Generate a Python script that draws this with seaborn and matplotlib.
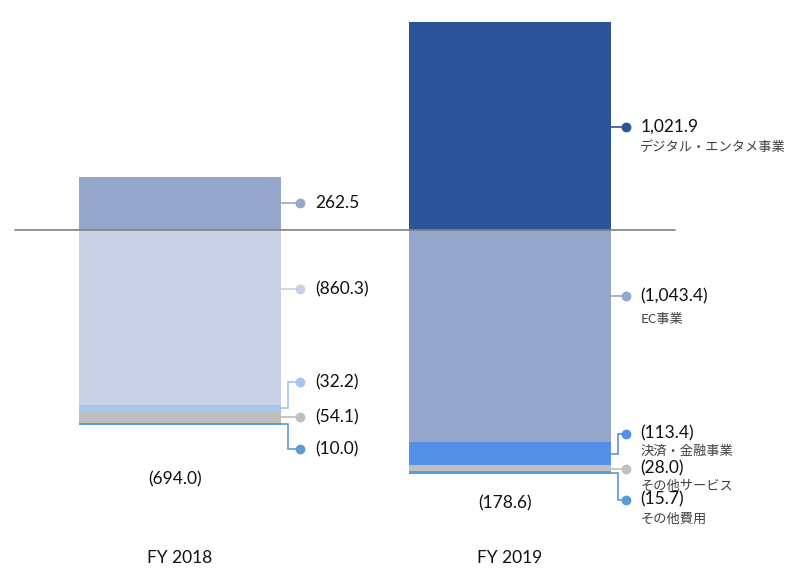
import matplotlib
matplotlib.use("Agg")
import pandas as pd
import seaborn as sns
import matplotlib.pyplot as plt

# data
years = ["FY 2018", "FY 2019"]
segments = ["デジタル・エンタメ事業", "EC事業", "決済・金融事業", "その他サービス", "その他費用"]
fy2018 = [262.5, -860.3, -32.2, -54.1, -10.0]
fy2019 = [1021.9, -1043.4, -113.4, -28.0, -15.7]
totals = [-694.0, -178.6]

colors_2018 = ["#94a7ca", "#c8d1e5", "#a6c5f0", "#bfbfbf", "#5b9bd5"]
colors_2019 = ["#2b5499", "#94a7ca", "#5590e8", "#bfbfbf", "#5b9bd5"]

# layout: where each callout sits (data units on the value axis)
label_y_2018 = [132, -290, -747, -919, -1076]
label_y_2019 = [508, -324, -1000, -1172, -1325]
name_offset = [-15, -17, -12.5, -13, -14]   # points below the value text
total_y = [-1224, -1341]
show_names = [False, True]

sns.set_style("white")
plt.rcParams["font.family"] = ["Lato", "Noto Sans CJK JP", "DejaVu Sans"]

fig = plt.figure(figsize=(8, 5.77), dpi=100)
ax = fig.add_axes([0, 0, 1, 1])

bar_w = 0.615
values = [fy2018, fy2019]
colors = [colors_2018, colors_2019]
label_ys = [label_y_2018, label_y_2019]

for i, year in enumerate(years):
    pos, neg = 0.0, 0.0
    for j, v in enumerate(values[i]):
        if v >= 0:
            bottom = pos
            pos += v
        else:
            bottom = neg
            neg += v
        df = pd.DataFrame({"year": [year], "value": [v]})
        sns.barplot(data=df, x="year", y="value", order=years, color=colors[i][j],
                    bottom=bottom, width=bar_w, errorbar=None, saturation=1,
                    linewidth=0, ax=ax)

        # callout line, dot and label
        seg_lo, seg_hi = sorted([bottom, bottom + v])
        ly = label_ys[i][j]
        anchor = ly if seg_lo <= ly <= seg_hi else (seg_lo + seg_hi) / 2
        edge = i + bar_w / 2
        elbow = edge + 0.02
        dot_x = i + (0.365 if i == 0 else 0.35)
        ax.plot([edge, elbow, elbow, dot_x], [anchor, anchor, ly, ly],
                color=colors[i][j], lw=1.2, solid_joinstyle="miter", zorder=3)
        ax.scatter([dot_x], [ly], s=50, color=colors[i][j], zorder=4, linewidth=0)
        txt = f"{v:,.1f}" if v >= 0 else f"({abs(v):,.1f})"
        ax.text(dot_x + 0.045, ly, txt, fontsize=12.5, color="#111111",
                va="center", ha="left")
        if show_names[i]:
            ax.annotate(segments[j], (dot_x + 0.045, ly), xytext=(0, name_offset[j]),
                        textcoords="offset points", fontsize=9.5,
                        color="#404040", va="center", ha="left",
                        family=["Noto Sans CJK JP", "DejaVu Sans"])

    ax.text(i - 0.015, total_y[i], f"({abs(totals[i]):,.1f})", fontsize=12.5,
            color="#111111", ha="center", va="center")
    ax.text(i, -1612, year, fontsize=12.5, color="#111111", ha="center", va="center")

ax.plot([-0.5, 1.5], [0, 0], color="#808080", lw=1.2, zorder=3)

ax.set_xlim(-180 / 330, -180 / 330 + 800 / 330)
ax.set_ylim(-347 / 0.2035, 230 / 0.2035)
ax.set_axis_off()

fig.savefig("out.png", dpi=100)
